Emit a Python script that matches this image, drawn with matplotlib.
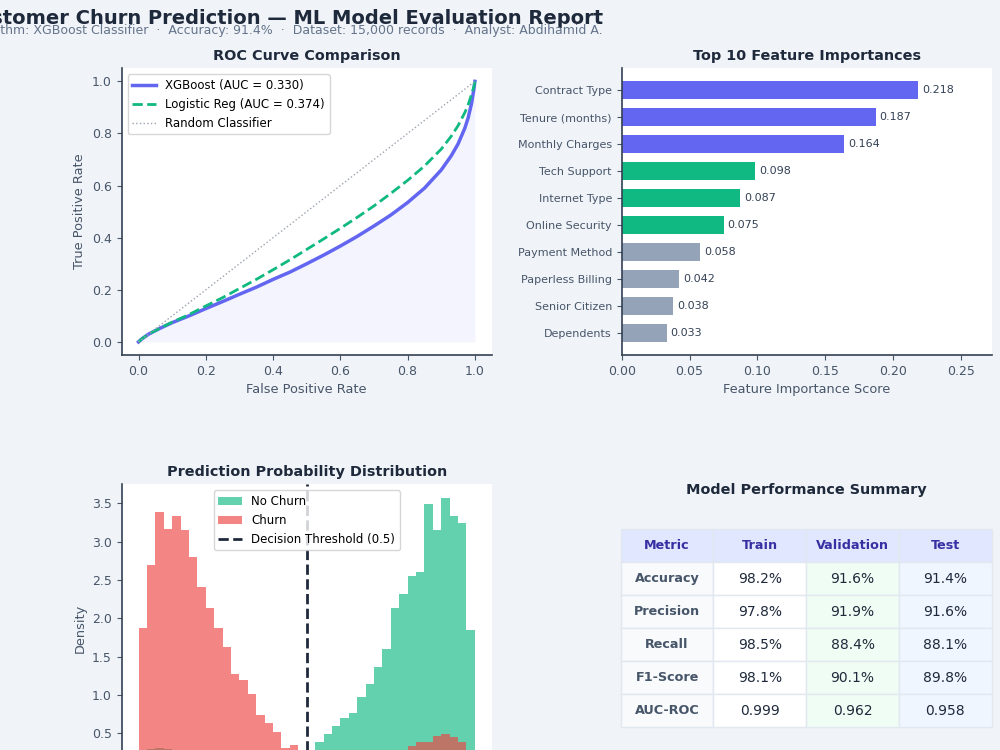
import matplotlib
matplotlib.use('Agg')
import matplotlib.pyplot as plt
import numpy as np

BG = '#f0f4f8'
DARK = '#1e293b'
GRAY = '#475569'
SPINE = '#334155'
BLUE = '#6366f1'
GREEN = '#10b981'
RED = '#ef4444'
SLATE = '#94a3b8'

# ROC curves
fpr = [0.0, 0.01, 0.03, 0.06, 0.1, 0.15, 0.2, 0.25, 0.3, 0.35, 0.4, 0.45, 0.5, 0.55, 0.6,
       0.65, 0.7, 0.75, 0.8, 0.85, 0.9, 0.93, 0.95, 0.97, 0.98, 0.99, 0.997, 1.0]
xgb_tpr = [0.0, 0.012, 0.03, 0.05, 0.074, 0.1, 0.128, 0.155, 0.183, 0.21, 0.24, 0.268, 0.3, 0.333,
           0.368, 0.405, 0.445, 0.487, 0.535, 0.59, 0.66, 0.715, 0.76, 0.82, 0.86, 0.915, 0.97, 1.0]
lr_tpr = [0.0, 0.012, 0.03, 0.05, 0.076, 0.105, 0.138, 0.17, 0.205, 0.24, 0.277, 0.315, 0.355, 0.395,
          0.436, 0.478, 0.522, 0.57, 0.62, 0.675, 0.74, 0.79, 0.83, 0.88, 0.91, 0.95, 0.98, 1.0]

# feature importances
features = ['Contract Type', 'Tenure (months)', 'Monthly Charges', 'Tech Support', 'Internet Type',
            'Online Security', 'Payment Method', 'Paperless Billing', 'Senior Citizen', 'Dependents']
importance = [0.218, 0.187, 0.164, 0.098, 0.087, 0.075, 0.058, 0.042, 0.038, 0.033]
feat_colors = [BLUE] * 3 + [GREEN] * 3 + [SLATE] * 4

# probability histograms: 40 bins on [0, 1], density heights
bin_edges = np.linspace(0, 1, 41)
no_churn_density = [0.05, 0.30, 0.31, 0.29, 0.22, 0.15, 0.10, 0.07, 0.05, 0.04,
                    0.03, 0.03, 0.02, 0.02, 0.02, 0.03, 0.04, 0.06, 0.10, 0.18,
                    0.27, 0.39, 0.49, 0.59, 0.70, 0.76, 0.98, 1.14, 1.36, 1.60,
                    2.13, 2.32, 2.55, 2.60, 3.49, 3.15, 3.57, 3.33, 3.24, 1.85]
churn_density = [1.88, 2.70, 3.39, 3.17, 3.34, 3.15, 2.80, 2.41, 2.14, 1.88,
                 1.62, 1.28, 1.20, 1.01, 0.74, 0.64, 0.52, 0.31, 0.35, 0.18,
                 0.04, 0.05, 0.06, 0.08, 0.10, 0.13, 0.16, 0.20, 0.24, 0.27,
                 0.27, 0.26, 0.33, 0.38, 0.38, 0.46, 0.49, 0.45, 0.38, 0.20]

# summary table
col_labels = ['Metric', 'Train', 'Validation', 'Test']
metrics = ['Accuracy', 'Precision', 'Recall', 'F1-Score', 'AUC-ROC']
train_vals = ['98.2%', '97.8%', '98.5%', '98.1%', '0.999']
val_vals = ['91.6%', '91.9%', '88.4%', '90.1%', '0.962']
test_vals = ['91.4%', '91.6%', '88.1%', '89.8%', '0.958']

plt.rcParams['font.family'] = 'DejaVu Sans'
fig = plt.figure(figsize=(10, 7.5), dpi=100, facecolor=BG)


def style(ax):
    ax.set_facecolor('white')
    for s in ['top', 'right']:
        ax.spines[s].set_visible(False)
    for s in ['left', 'bottom']:
        ax.spines[s].set_color(SPINE)
        ax.spines[s].set_linewidth(1.2)
    ax.tick_params(colors=GRAY, labelsize=9)


fig.text(0.283, 1 - 23.5 / 750, 'Customer Churn Prediction — ML Model Evaluation Report',
         ha='center', va='baseline', fontsize=14, fontweight='bold', color=DARK)
fig.text(0.283, 1 - 34 / 750,
         'Algorithm: XGBoost Classifier  ·  Accuracy: 91.4%  ·  Dataset: 15,000 records  ·  Analyst: Abdihamid A.',
         ha='center', va='baseline', fontsize=9, color='#64748b')

# ROC
ax1 = fig.add_axes([0.1217, 0.5267, 0.37, 0.3822])
style(ax1)
ax1.plot(fpr, xgb_tpr, color=BLUE, lw=2.5, label='XGBoost (AUC = 0.330)')
ax1.plot(fpr, lr_tpr, color=GREEN, lw=2, ls='--', label='Logistic Reg (AUC = 0.374)')
ax1.plot([0, 1], [0, 1], color='#9ca3af', lw=1, ls=':', label='Random Classifier')
ax1.fill_between(fpr, xgb_tpr, color=BLUE, alpha=0.07, lw=0)
ax1.set_xlim(-0.05, 1.05)
ax1.set_ylim(-0.05, 1.05)
ax1.set_xlabel('False Positive Rate', fontsize=9.3, color=GRAY)
ax1.set_ylabel('True Positive Rate', fontsize=9.3, color=GRAY)
ax1.set_title('ROC Curve Comparison', fontsize=10.4, fontweight='bold', color=DARK)
ax1.legend(loc='upper left', fontsize=8.5)

# feature importance
ax2 = fig.add_axes([0.6217, 0.5267, 0.37, 0.3822])
style(ax2)
y = np.arange(len(features))
ax2.barh(y, importance, height=0.65, color=feat_colors)
ax2.set_yticks(y)
ax2.set_yticklabels(features, fontsize=8)
ax2.invert_yaxis()
ax2.set_xlim(0, max(importance) * 1.25)
for yi, v in zip(y, importance):
    ax2.text(v + 0.003, yi, f'{v:.3f}', va='center', fontsize=8, color=SPINE)
ax2.set_xlabel('Feature Importance Score', fontsize=9.3, color=GRAY)
ax2.set_title('Top 10 Feature Importances', fontsize=10.4, fontweight='bold', color=DARK)

# histogram
ax3 = fig.add_axes([0.1217, -0.0288, 0.37, 0.3831])
style(ax3)
centers = (bin_edges[:-1] + bin_edges[1:]) / 2
ax3.hist(centers, bins=bin_edges, weights=no_churn_density, color=GREEN, alpha=0.65, label='No Churn')
ax3.hist(centers, bins=bin_edges, weights=churn_density, color=RED, alpha=0.65, label='Churn')
ax3.axvline(0.5, color=DARK, lw=2, ls='--', label='Decision Threshold (0.5)')
ax3.set_xlim(-0.05, 1.05)
ax3.set_ylim(0, 3.75)
ax3.set_ylabel('Density', fontsize=9.3, color=GRAY)
ax3.set_xlabel('Predicted Probability of Churn', fontsize=9.3, color=GRAY)
ax3.set_title('Prediction Probability Distribution', fontsize=10.4, fontweight='bold', color=DARK)
ax3.legend(loc='upper center', fontsize=8.5)

# table
ax4 = fig.add_axes([0.6207, -0.0288, 0.371, 0.3831])
ax4.axis('off')
rows = [[m, a, b, c] for m, a, b, c in zip(metrics, train_vals, val_vals, test_vals)]
tbl = ax4.table(cellText=rows, colLabels=col_labels, cellLoc='center',
                bbox=[0, 0.154, 1, 0.689])
tbl.auto_set_font_size(False)
col_bg = ['#f8fafc', 'white', '#f0fdf4', '#eff6ff']
for (r, c), cell in tbl.get_celld().items():
    cell.set_edgecolor('#e2e8f0')
    cell.set_linewidth(1)
    if r == 0:
        cell.set_facecolor('#e0e7ff')
        cell.set_text_props(color='#3730a3', fontweight='bold', fontsize=9.2)
    else:
        cell.set_facecolor(col_bg[c])
        if c == 0:
            cell.set_text_props(color=GRAY, fontweight='bold', fontsize=9.2)
        else:
            cell.set_text_props(color=DARK, fontsize=10)
ax4.text(0.5, 0.98, 'Model Performance Summary', transform=ax4.transAxes, ha='center', va='center',
         fontsize=10.4, fontweight='bold', color=DARK)

fig.savefig('out.png', dpi=100, facecolor=BG)
